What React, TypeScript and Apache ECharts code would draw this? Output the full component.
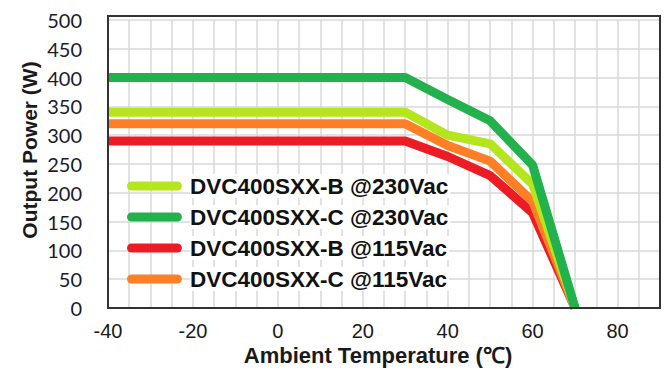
import React, { useEffect, useRef } from "react";
import * as echarts from "echarts";

const temps = [-40, 30, 40, 50, 60, 70];
const b230 = [340, 340, 300, 285, 215, 0];
const c230 = [400, 400, 362, 325, 248, 0];
const b115 = [290, 290, 263, 230, 165, 0];
const c115 = [320, 320, 282, 255, 185, 0];

const seriesNames = [
  "DVC400SXX-B @230Vac",
  "DVC400SXX-C @230Vac",
  "DVC400SXX-B @115Vac",
  "DVC400SXX-C @115Vac",
];
const seriesColors = ["#b5e61d", "#22b14c", "#ed1c24", "#ff7f27"];
const seriesValues = [b230, c230, b115, c115];
const drawOrder = [2, 3, 0, 1];

const xTitle = "Ambient Temperature (℃)";
const yTitle = "Output Power (W)";

export default function App() {
  const ref = useRef<HTMLDivElement>(null);
  useEffect(() => {
    document.body.style.margin = "0";
    const chart = echarts.init(ref.current!, null, { renderer: "svg" });
    const series = drawOrder.map((i) => ({
      name: seriesNames[i],
      type: "line",
      showSymbol: false,
      symbol: "none",
      data: temps.map((t, k) => [t, seriesValues[i][k]]),
      lineStyle: { width: 9, color: seriesColors[i] },
      itemStyle: { color: seriesColors[i] },
      z: 3,
    }));
    chart.setOption({
      animation: false,
      backgroundColor: "#fff",
      grid: { left: 108, right: 9, top: 20, bottom: 64, containLabel: false },
      xAxis: {
        type: "value",
        min: -40,
        max: 90,
        interval: 5,
        axisLine: { show: false },
        axisTick: { show: false },
        axisLabel: {
          margin: 13,
          color: "#1a1a1a",
          fontFamily: "Liberation Sans, Arial, sans-serif",
          fontSize: 20,
          formatter: (v: number) => (v % 20 === 0 && v <= 80 ? String(v) : ""),
        },
        splitLine: { show: true, lineStyle: { color: "#d9d9d9", width: 1.5 } },
      },
      yAxis: {
        type: "value",
        min: 0,
        max: 500,
        interval: 50,
        axisLine: { show: false },
        axisTick: { show: false },
        axisLabel: {
          margin: 26,
          color: "#1a1a2e",
          fontFamily: "Lato, Liberation Sans, sans-serif",
          fontSize: 20,
        },
        splitLine: { show: true, lineStyle: { color: "#d9d9d9", width: 1.5 } },
      },
      legend: {
        data: seriesNames,
        orient: "vertical",
        left: 122,
        top: 169,
        itemWidth: 61,
        itemHeight: 9,
        itemGap: 7,
        icon: "path://M5,0 H56 A5,5 0 0 1 56,10 H5 A5,5 0 0 1 5,0 Z",
        textStyle: {
          color: "#111",
          fontFamily: "Liberation Sans, Arial, sans-serif",
          fontWeight: "bold",
          fontSize: 22.5,
          lineHeight: 22,
          backgroundColor: "#fff",
          padding: [1, 2, 1, 0],
        },
        selectedMode: false,
      },
      graphic: [
        {
          type: "rect",
          shape: { x: 108, y: 16, width: 552, height: 292 },
          style: { fill: "none", stroke: "#333", lineWidth: 2 },
          z: 10,
          silent: true,
        },
        {
          type: "text",
          x: 378,
          y: 355,
          style: {
            text: xTitle,
            align: "center",
            verticalAlign: "middle",
            fill: "#1a1a1a",
            font: "bold 22px 'Liberation Sans', Arial, sans-serif",
          },
        },
        {
          type: "text",
          x: 29,
          y: 150,
          rotation: Math.PI / 2,
          style: {
            text: yTitle,
            align: "center",
            verticalAlign: "middle",
            fill: "#1a1a1a",
            font: "bold 21px 'Liberation Sans', Arial, sans-serif",
          },
        },
      ],
      series,
    });
    return () => chart.dispose();
  }, []);
  return <div ref={ref} style={{ width: 669, height: 372 }} />;
}
